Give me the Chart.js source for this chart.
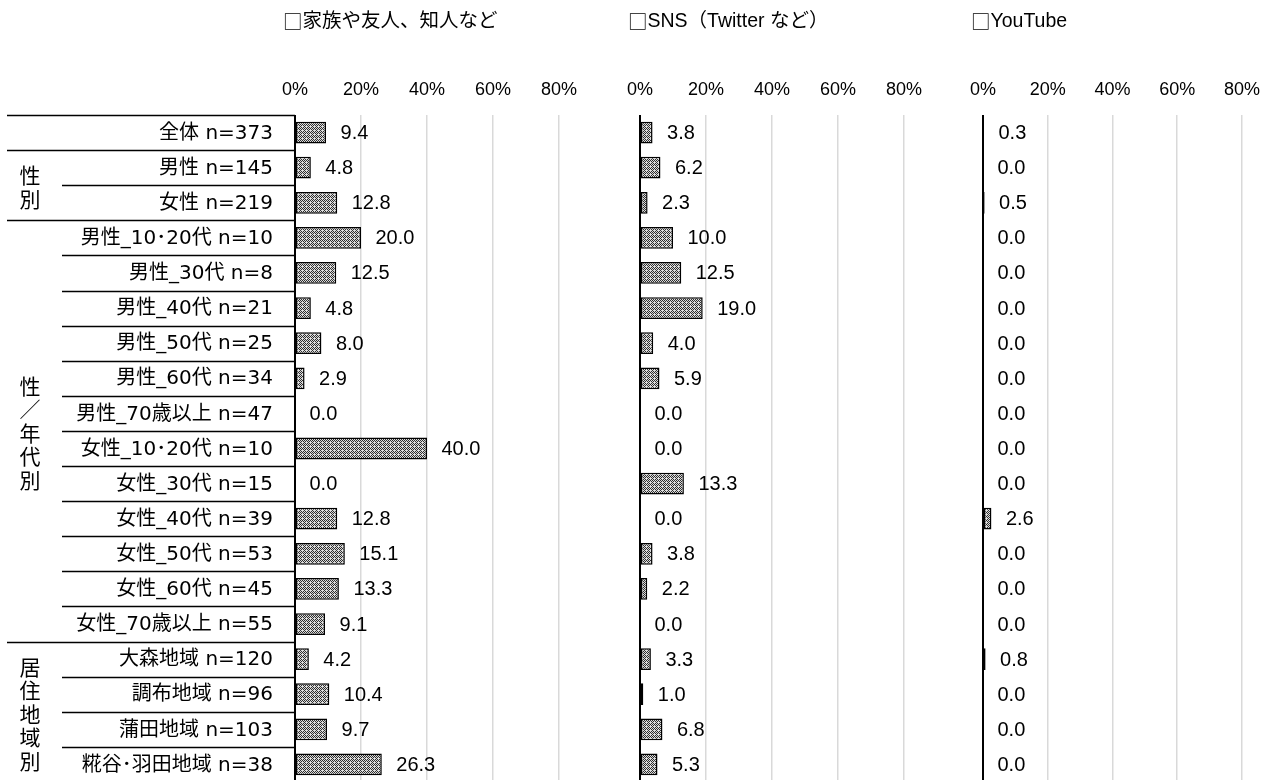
<!DOCTYPE html>
<html lang="ja">
<head>
<meta charset="utf-8">
<script src="https://cdn.jsdelivr.net/npm/chart.js@4.4.1/dist/chart.umd.min.js"></script>
<style>
  html, body { margin: 0; padding: 0; background: #fff; overflow: hidden; }
  #wrap { position: relative; width: 1274px; height: 780px; overflow: hidden; background: #fff; }
  #wrap canvas { position: absolute; left: 0; top: 0; }
</style>
</head>
<body>
<div id="wrap">
  <canvas id="c1" width="1274" height="800"></canvas>
  <canvas id="c2" width="1274" height="800"></canvas>
  <canvas id="c3" width="1274" height="800"></canvas>
</div>
<script>
// ---------- data ----------
const categories = [
  '全体 n=373', '男性 n=145', '女性 n=219',
  '男性_10･20代 n=10', '男性_30代 n=8', '男性_40代 n=21', '男性_50代 n=25',
  '男性_60代 n=34', '男性_70歳以上 n=47', '女性_10･20代 n=10', '女性_30代 n=15',
  '女性_40代 n=39', '女性_50代 n=53', '女性_60代 n=45', '女性_70歳以上 n=55',
  '大森地域 n=120', '調布地域 n=96', '蒲田地域 n=103', '糀谷･羽田地域 n=38'
];
const groupLabels = ['', '性別', '性／年代別', '居住地域別'];
const groupSizes = [1, 2, 12, 4];

const seriesNames = ['家族や友人、知人など', 'SNS（Twitter など）', 'YouTube'];
const familyFriends = [9.4, 4.8, 12.8, 20.0, 12.5, 4.8, 8.0, 2.9, 0.0, 40.0, 0.0, 12.8, 15.1, 13.3, 9.1, 4.2, 10.4, 9.7, 26.3];
const sns = [3.8, 6.2, 2.3, 10.0, 12.5, 19.0, 4.0, 5.9, 0.0, 0.0, 13.3, 0.0, 3.8, 2.2, 0.0, 3.3, 1.0, 6.8, 5.3];
const youtube = [0.3, 0.0, 0.5, 0.0, 0.0, 0.0, 0.0, 0.0, 0.0, 0.0, 0.0, 2.6, 0.0, 0.0, 0.0, 0.8, 0.0, 0.0, 0.0];
const tickValues = [0, 20, 40, 60, 80];

// ---------- styling ----------
const LATIN = '"Liberation Sans", Arial, "Noto Sans CJK JP", sans-serif';
const ROWFONT = '"DejaVu Sans", "Noto Sans CJK JP", sans-serif';
const CJK = '"Noto Sans CJK JP", "Liberation Sans", sans-serif';

function makePattern() {
  const p = document.createElement('canvas');
  p.width = 4; p.height = 4;
  const g = p.getContext('2d');
  g.fillStyle = '#dcdcdc'; g.fillRect(0, 0, 4, 4);
  g.fillStyle = '#2e2e2e';
  for (let y = 0; y < 4; y++) for (let x = 0; x < 4; x++) {
    if ((x + y) % 2 === 0 && !(x === 2 && y === 2)) g.fillRect(x, y, 1, 1);
  }
  return g.createPattern(p, 'repeat');
}

const valueLabels = {
  id: 'valueLabels',
  afterDatasetsDraw(chart) {
    const ctx = chart.ctx;
    const meta = chart.getDatasetMeta(0);
    const data = chart.data.datasets[0].data;
    ctx.save();
    ctx.font = '20px ' + LATIN;
    ctx.fillStyle = '#000';
    ctx.textAlign = 'left';
    ctx.textBaseline = 'middle';
    meta.data.forEach((bar, i) => {
      ctx.fillText(data[i].toFixed(1), bar.x + 14.5, bar.y + 1);
    });
    ctx.restore();
  }
};

const panelTitle = {
  id: 'panelTitle',
  afterDraw(chart, args, opts) {
    const ctx = chart.ctx;
    const x0 = chart.scales.x.getPixelForValue(0);
    ctx.save();
    ctx.fillStyle = '#000';
    ctx.textAlign = 'left';
    ctx.textBaseline = 'middle';
    ctx.font = '19.5px ' + CJK;
    const box = '□';
    ctx.fillText(box, x0 - 12, 22);
    const w = ctx.measureText(box).width;
    ctx.font = '19.5px ' + LATIN;
    ctx.fillText(opts.text, x0 - 12 + w, 22);
    ctx.restore();
  }
};

const rowTable = {
  id: 'rowTable',
  afterDraw(chart, args, opts) {
    if (!opts.enabled) return;
    const ctx = chart.ctx;
    const ys = chart.scales.y;
    const x0 = chart.scales.x.getPixelForValue(0);
    const rowH = ys.getPixelForValue(1) - ys.getPixelForValue(0);
    const edge = i => ys.getPixelForValue(i) - rowH / 2;
    ctx.save();
    // row labels
    ctx.font = '20px ' + ROWFONT;
    ctx.fillStyle = '#000';
    ctx.textAlign = 'right';
    ctx.textBaseline = 'middle';
    chart.data.labels.forEach((lab, i) => {
      ctx.fillText(lab, x0 - 22, ys.getPixelForValue(i) + 1);
    });
    // separator lines
    const groupStart = new Set();
    let acc = 0;
    groupSizes.forEach(s => { groupStart.add(acc); acc += s; });
    groupStart.add(acc);
    ctx.strokeStyle = '#000';
    ctx.lineWidth = 1.6;
    for (let i = 0; i <= categories.length; i++) {
      const y = Math.round(edge(i)) + 0.5;
      const xs = groupStart.has(i) ? 7 : 62;
      ctx.beginPath();
      ctx.moveTo(xs, y);
      ctx.lineTo(x0, y);
      ctx.stroke();
    }
    // group labels (vertical)
    ctx.font = '21px ' + CJK;
    ctx.textAlign = 'center';
    let start = 0;
    groupLabels.forEach((g, gi) => {
      const n = groupSizes[gi];
      if (g) {
        const mid = (edge(start) + edge(start + n)) / 2 + 2;
        const chars = Array.from(g);
        const step = 23.5;
        chars.forEach((ch, k) => {
          ctx.fillText(ch, 30, mid + (k - (chars.length - 1) / 2) * step);
        });
      }
      start += n;
    });
    ctx.restore();
  }
};

function makePanel(id, values, title, left, right, withTable) {
  const pattern = makePattern();
  return new Chart(document.getElementById(id), {
    type: 'bar',
    data: {
      labels: categories,
      datasets: [{
        data: values,
        backgroundColor: pattern,
        borderColor: '#000',
        borderWidth: 1.5,
        borderSkipped: false,
        barPercentage: 0.62,
        categoryPercentage: 1
      }]
    },
    plugins: [valueLabels, panelTitle, rowTable],
    options: {
      indexAxis: 'y',
      responsive: false,
      animation: false,
      devicePixelRatio: 1,
      layout: { autoPadding: false, padding: { left: left, right: 1274 - right, top: 0, bottom: 18 } },
      plugins: {
        legend: { display: false },
        tooltip: { enabled: false },
        title: { display: false },
        panelTitle: { text: title },
        rowTable: { enabled: withTable }
      },
      scales: {
        x: {
          position: 'top',
          min: 0,
          max: 80,
          afterBuildTicks: s => { s.ticks = tickValues.map(v => ({ value: v })); },
          afterFit: s => { s.height = 115; },
          ticks: {
            callback: v => v + '%',
            font: { size: 18, family: LATIN },
            color: '#000',
            padding: 14,
            maxRotation: 0,
            autoSkip: false
          },
          grid: {
            drawTicks: false,
            color: c => (c.tick && c.tick.value === 0) ? '#000' : '#d9d9d9',
            lineWidth: c => (c.tick && c.tick.value === 0) ? 2 : 1.5
          },
          border: { display: false }
        },
        y: {
          display: false,
          offset: true
        }
      }
    }
  });
}

makePanel('c1', familyFriends, seriesNames[0], 295, 559, true);
makePanel('c2', sns, seriesNames[1], 640, 904, false);
makePanel('c3', youtube, seriesNames[2], 983, 1247, false);
</script>
</body>
</html>
